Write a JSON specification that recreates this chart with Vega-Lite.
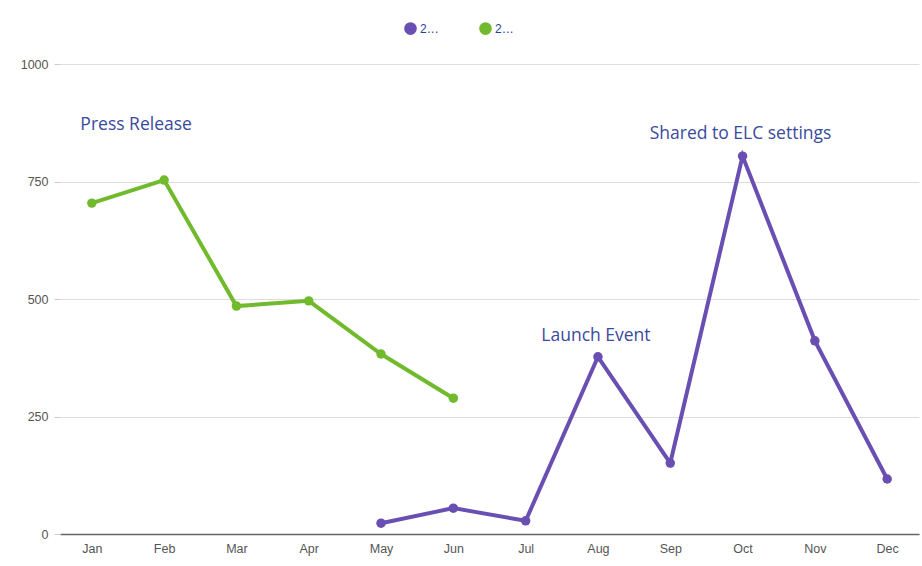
{
  "$schema": "https://vega.github.io/schema/vega-lite/v6.json",
  "autosize": {"type": "none"},
  "width": 859,
  "height": 470,
  "padding": {"left": 60, "top": 64, "right": 3, "bottom": 32},
  "background": "white",
  "config": {
    "view": {"stroke": null},
    "axis": {"labelFont": "Liberation Sans", "labelColor": "#555555", "labelFontSize": 12.5}
  },
  "datasets": {
    "series": [
      {"month": "Jan", "series": "2023", "value": 704},
      {"month": "Feb", "series": "2023", "value": 753},
      {"month": "Mar", "series": "2023", "value": 485},
      {"month": "Apr", "series": "2023", "value": 496},
      {"month": "May", "series": "2023", "value": 383},
      {"month": "Jun", "series": "2023", "value": 289},
      {"month": "May", "series": "2024", "value": 23},
      {"month": "Jun", "series": "2024", "value": 55},
      {"month": "Jul", "series": "2024", "value": 28},
      {"month": "Aug", "series": "2024", "value": 377},
      {"month": "Sep", "series": "2024", "value": 151},
      {"month": "Oct", "series": "2024", "value": 804},
      {"month": "Nov", "series": "2024", "value": 411},
      {"month": "Dec", "series": "2024", "value": 117}
    ],
    "notes": [
      {"month": "Feb", "value": 870, "note": "Press Release"},
      {"month": "Aug", "value": 421, "note": "Launch Event"},
      {"month": "Oct", "value": 851, "note": "Shared to ELC settings"}
    ]
  },
  "encoding": {
    "x": {
      "field": "month", "type": "ordinal",
      "sort": ["Jan","Feb","Mar","Apr","May","Jun","Jul","Aug","Sep","Oct","Nov","Dec"],
      "scale": {"type": "point", "padding": 0.44},
      "axis": {"title": null, "labelAngle": 0, "ticks": false, "domainColor": "#666666", "domainWidth": 1.5, "labelPadding": 8, "grid": false}
    },
    "y": {
      "field": "value", "type": "quantitative",
      "scale": {"domain": [0, 1000]},
      "axis": {"title": null, "values": [0, 250, 500, 750, 1000], "format": "d", "domain": false, "tickColor": "#cccccc", "tickSize": 6, "gridColor": "#dddddd", "labelPadding": 6}
    }
  },
  "layer": [
    {
      "data": {"name": "series"},
      "mark": {"type": "line", "strokeWidth": 4, "point": {"filled": true, "size": 90}},
      "encoding": {
        "color": {
          "field": "series", "type": "nominal",
          "scale": {"domain": ["2024", "2023"], "range": ["#6a4fb3", "#72ba2d"]},
          "legend": {
            "title": null, "orient": "none", "direction": "horizontal",
            "legendX": 344, "legendY": -42,
            "symbolType": "circle", "symbolSize": 160, "symbolStrokeWidth": 0,
            "labelLimit": 20, "labelColor": "#2a3ea0", "labelFontSize": 12,
            "labelOffset": 3, "columnPadding": 40
          }
        }
      }
    },
    {
      "data": {"name": "notes"},
      "transform": [{"filter": "datum.note === 'Press Release'"}],
      "mark": {"type": "text", "font": "Open Sans", "fontSize": 17.5, "color": "#3a4a9c", "baseline": "middle", "align": "center", "dx": -28},
      "encoding": {"text": {"field": "note"}}
    },
    {
      "data": {"name": "notes"},
      "transform": [{"filter": "datum.note !== 'Press Release'"}],
      "mark": {"type": "text", "font": "Open Sans", "fontSize": 17.5, "color": "#3a4a9c", "baseline": "middle", "align": "center", "dx": -2},
      "encoding": {"text": {"field": "note"}}
    }
  ]
}
